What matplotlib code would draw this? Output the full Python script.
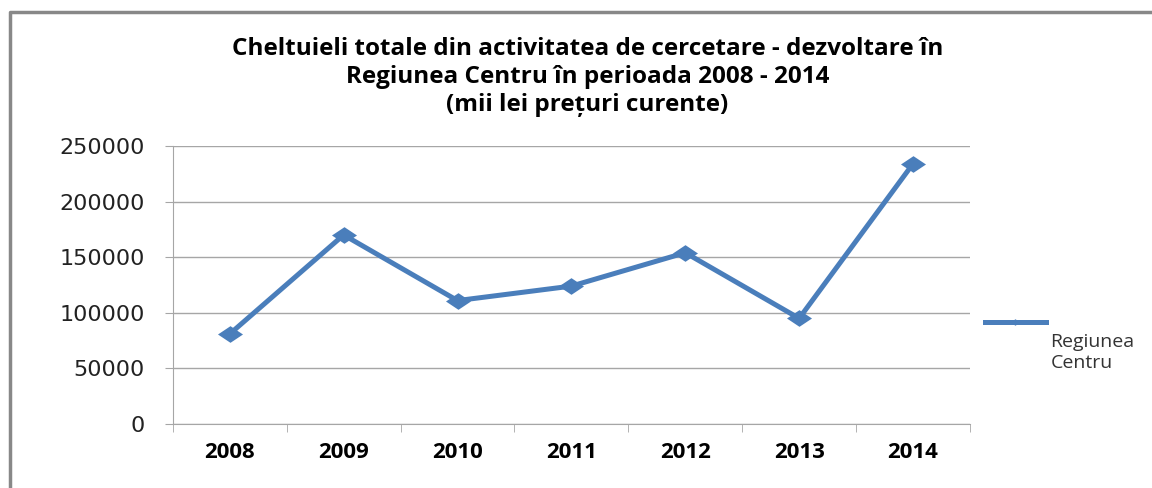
import matplotlib.pyplot as plt
from matplotlib.lines import Line2D

years = ['2008', '2009', '2010', '2011', '2012', '2013', '2014']
cheltuieli = [81000, 170000, 111000, 124000, 154000, 95000, 234000]
yticks = [0, 50000, 100000, 150000, 200000, 250000]
series_label = 'Regiunea\nCentru'
title = ('Cheltuieli totale din activitatea de cercetare - dezvoltare în\n'
         'Regiunea Centru în perioada 2008 - 2014\n'
         '(mii lei prețuri curente)')

blue = '#4a7ebb'
grid_grey = '#a6a6a6'
diamond = [(-1.5, 0), (0, 1), (1.5, 0), (0, -1)]


def main():
    fig = plt.figure(figsize=(11.52, 4.88), dpi=100)
    ax = fig.add_axes([0.150, 0.131, 0.692, 0.570])

    x = list(range(len(years)))
    ax.plot(x, cheltuieli, color=blue, lw=3.6, marker=diamond,
            markersize=18, markeredgewidth=0, solid_joinstyle='round')

    ax.set_xlim(-0.5, len(years) - 0.5)
    ax.set_ylim(0, 250000)
    ax.set_yticks(yticks)
    ax.set_yticklabels([str(v) for v in yticks], fontsize=16,
                       family='DejaVu Sans', color='#222222')
    ax.set_xticks(x)
    ax.set_xticklabels(years, fontsize=16, fontweight='bold', family='Open Sans')
    ax.set_xticks([i - 0.5 for i in range(len(years) + 1)], minor=True)
    ax.tick_params(axis='x', which='major', length=0, pad=13)
    ax.tick_params(axis='x', which='minor', length=6, color=grid_grey, direction='out')
    ax.tick_params(axis='y', length=6, color=grid_grey, pad=14)
    ax.grid(axis='y', color=grid_grey, lw=1)
    ax.set_axisbelow(True)
    for side in ['top', 'right']:
        ax.spines[side].set_visible(False)
    for side in ['left', 'bottom']:
        ax.spines[side].set_color(grid_grey)

    fig.text(0.510, 0.925, title, ha='center', va='top', fontsize=17.5,
             fontweight='bold', family='Open Sans', linespacing=1.22)

    # legend: short line with small diamond, label below-right
    fig.add_artist(Line2D([0.855, 0.908], [0.340, 0.340], color=blue, lw=3.6,
                          transform=fig.transFigure))
    fig.add_artist(Line2D([0.881], [0.340], color=blue, marker=diamond,
                          markersize=7, markeredgewidth=0, transform=fig.transFigure))
    fig.text(0.912, 0.318, series_label, ha='left', va='top', fontsize=14,
             family='Open Sans', color='#333333', linespacing=1.2)

    # outer frame (top and left edges visible)
    fig.add_artist(Line2D([0.009, 0.009, 1.0], [0.0, 0.975, 0.975], color='#888888',
                          lw=2.5, transform=fig.transFigure))

    fig.savefig('out.png', dpi=100)


if __name__ == "__main__":
    main()
